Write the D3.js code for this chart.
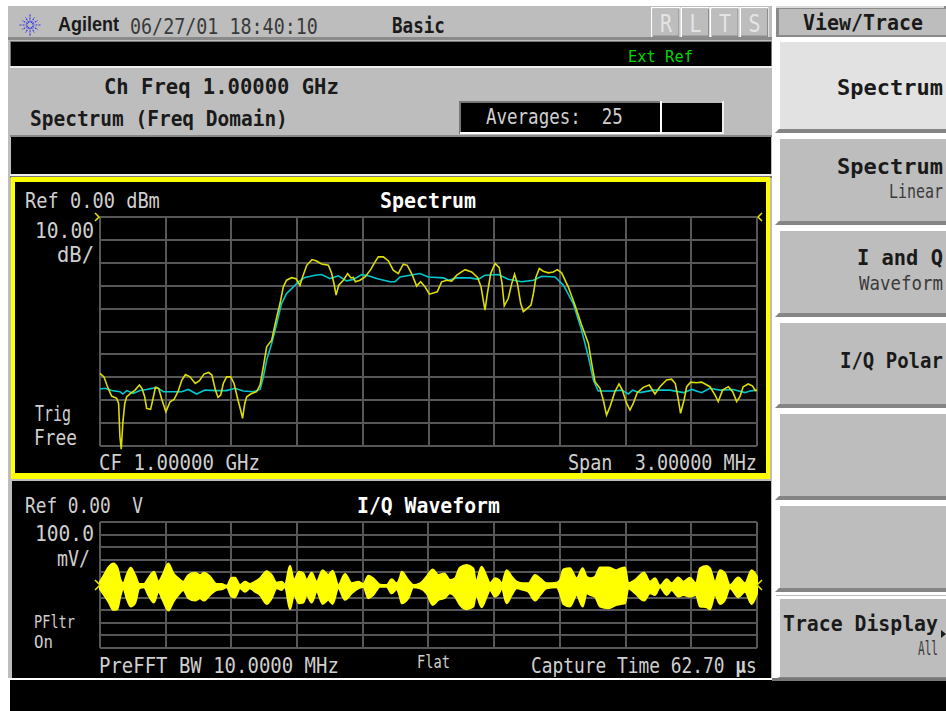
<!DOCTYPE html>
<html><head><meta charset="utf-8">
<script src="https://cdn.jsdelivr.net/npm/d3@7/dist/d3.min.js"></script>
<style>html,body{margin:0;padding:0;background:#fff;overflow:hidden}svg{display:block}</style>
</head><body><svg id="c" width="946" height="711"></svg>
<script>
// Spectrum: live trace (yellow) — frequency offset in kHz, power in dB
const liveFreq=[-1500,-1482,-1467,-1447,-1424,-1415,-1409,-1403,-1396,-1387,-1378,-1360,-1340,-1320,-1308,-1296,-1287,-1269,-1256,-1247,-1232,-1217,-1199,-1180,-1162,-1144,-1126,-1110,-1089,-1065,-1046,-1025,-1004,-989,-973,-961,-949,-937,-922,-903,-888,-870,-858,-849,-839,-830,-812,-785,-769,-754,-739,-716,-693,-678,-663,-648,-625,-605,-587,-575,-556,-532,-511,-488,-457,-442,-430,-422,-410,-389,-369,-354,-343,-334,-313,-290,-264,-244,-229,-206,-183,-161,-138,-130,-115,-97,-77,-54,-36,-16,4,40,60,83,106,129,167,197,224,240,250,258,269,284,304,323,336,346,364,380,393,406,421,433,456,468,479,491,506,524,547,570,588,608,638,669,699,730,745,760,783,798,813,829,851,870,885,905,920,935,953,981,1008,1034,1057,1087,1110,1127,1141,1151,1167,1179,1197,1224,1247,1285,1308,1323,1343,1369,1389,1407,1422,1437,1460,1480,1492,1500];
const livePower=[-68.3,-69.8,-73.8,-78.2,-79.2,-81.4,-95.9,-101.4,-90.1,-81.4,-78.5,-77,-75.6,-73.4,-74.9,-78.5,-83.6,-84,-78.5,-74.4,-74.9,-79.9,-85,-80.7,-79.7,-76.3,-71.2,-68.8,-69.8,-72.7,-71.5,-68.6,-67.9,-69,-75.6,-78.8,-77.8,-72.7,-69.8,-69.8,-72.7,-79.9,-84.3,-87.9,-81.4,-78.5,-77.3,-76.3,-73.4,-65.4,-56.7,-53.8,-43.6,-37.8,-30.5,-27.6,-26.5,-26.9,-29.8,-26.2,-21.1,-18.6,-19.2,-20.5,-21.1,-24.7,-29.8,-34.1,-29.8,-27.6,-24.7,-26.6,-26.4,-28.3,-27.6,-26.2,-23,-19.6,-17.4,-17.4,-19.2,-23.2,-24.7,-23.2,-20.6,-21.1,-24.7,-30.2,-28.3,-30.5,-33.7,-32.7,-28.3,-27.6,-28,-25.4,-23,-24,-26.4,-30.5,-36.3,-40.7,-33.4,-24.7,-20.3,-22.1,-29.1,-38.8,-35.6,-29.1,-25,-29.1,-37.8,-41.3,-39.5,-38.5,-33.4,-26.2,-22.5,-23.7,-24.4,-24,-23,-24.4,-30.5,-38.5,-47.2,-55.2,-63.9,-71.9,-74.8,-79.9,-86.5,-82.8,-76.3,-72.9,-75.6,-81.4,-84.3,-81.4,-76.7,-74.4,-73.4,-77.3,-74.1,-71.2,-70.8,-72.7,-79.9,-85.7,-79.9,-74.1,-72.1,-72.4,-72.1,-74.1,-77.7,-80.6,-75.6,-74.1,-76.3,-80.6,-78.5,-74.1,-72.9,-73.8,-75.8,-75.6];
// Spectrum: averaged trace (cyan)
const avgFreq=[-1500,-1477,-1447,-1409,-1396,-1378,-1348,-1317,-1287,-1241,-1211,-1165,-1127,-1097,-1059,-1021,-967,-922,-884,-846,-800,-769,-754,-739,-716,-693,-671,-648,-617,-594,-564,-518,-488,-450,-412,-374,-343,-305,-267,-237,-176,-153,-130,-85,-39,-1,68,91,129,190,228,258,319,364,425,479,517,578,616,661,699,730,753,775,844,882,912,932,965,1027,1103,1164,1202,1247,1285,1331,1392,1445,1468,1500];
const avgPower=[-75.1,-74.8,-75.8,-76.3,-77.3,-75.8,-77,-75.8,-75.3,-74.4,-76.3,-76.3,-76.3,-75.3,-77.3,-75.6,-75.8,-75.8,-74.8,-76,-76.3,-75.3,-69.8,-62.5,-55.2,-46.5,-37.8,-33.4,-30.5,-28.3,-26.4,-25.4,-25.1,-26.9,-25.7,-27.9,-27.3,-25.1,-25.9,-26.9,-28.3,-28.3,-26.2,-25.4,-24.7,-26.2,-26.6,-27.6,-26.6,-26.6,-27.2,-25.4,-25.1,-27.2,-28.3,-27.6,-25.9,-26.2,-29.8,-37.8,-49.4,-61,-71.2,-76,-76,-75.6,-77.3,-75.6,-76.7,-75.6,-75.6,-76.7,-75.3,-76.7,-74.8,-75.6,-75.3,-76.7,-76,-75.6];
// I/Q waveform envelope — time in µs, upper and lower limit in mV
const iqTime=[0,.38,.8,1.27,1.65,1.97,2.23,2.54,2.93,3.34,3.75,4.2,4.61,5.15,5.57,5.98,6.52,7,7.48,7.95,8.43,9.07,9.54,9.92,10.5,11.13,11.61,12.09,12.56,12.88,13.36,13.84,14.31,14.79,15.27,15.91,16.38,16.86,17.34,17.65,18.13,18.51,18.99,19.4,19.72,20.2,20.68,21.25,21.79,22.2,22.74,23.38,24.02,24.65,25.13,25.61,26.08,26.72,27.36,27.83,28.31,28.63,28.79,29.42,29.9,30.54,31.17,31.75,32.29,32.86,33.4,33.88,34.35,34.99,35.63,35.88,36.42,36.9,37.22,37.7,38.08,38.33,38.81,39.29,39.76,40.4,40.88,41.51,41.99,42.63,43.58,43.9,44.22,44.85,45.49,46.06,46.44,46.82,47.24,47.72,48.51,49.31,49.69,50.1,50.42,51.06,51.91,52.49,52.96,53.44,54.08,54.55,55.19,55.67,56.3,56.88,57.26,57.89,58.21,58.69,59.17,59.64,60.12,60.92,61.55,62.19,62.7];
const iqUpper=[26,79,139,171,139,39,13,79,137,79,8,8,53,105,26,79,171,92,53,26,79,97,79,97,66,8,8,-8,58,58,0,26,8,26,53,110,79,18,26,0,153,39,105,92,39,97,26,118,79,113,0,87,13,26,8,74,53,3,0,45,13,60,105,39,0,13,66,124,79,92,39,53,139,158,132,26,145,66,13,53,39,13,118,66,26,13,13,79,53,13,18,39,124,132,53,132,66,53,66,139,139,118,132,139,13,39,97,26,53,-8,45,13,60,26,58,13,132,150,132,26,118,92,0,60,13,118,66];
const iqLower=[-34,-79,-132,-197,-192,-79,-26,-105,-171,-145,-26,-18,-79,-139,-53,-118,-203,-132,-79,-39,-105,-124,-105,-124,-79,-39,-34,-18,-92,-97,-26,-53,-26,-53,-79,-150,-105,-26,-39,-13,-192,-79,-145,-139,-79,-139,-53,-150,-118,-150,-26,-118,-66,-26,-13,-105,-79,-13,-13,-66,-34,-97,-145,-105,-18,-26,-66,-158,-118,-105,-66,-92,-158,-192,-171,-79,-176,-92,-39,-92,-66,-26,-145,-79,-26,-39,-53,-124,-79,-26,-18,-66,-150,-171,-79,-171,-66,-79,-92,-171,-184,-158,-150,-145,-26,-66,-124,-66,-79,-18,-79,-39,-92,-79,-92,-79,-171,-176,-192,-79,-150,-118,-26,-97,-53,-150,-66];
const softKeys=[
 {y0:40,y1:130,light:true},{y0:137,y1:222},{y0:229,y1:314},{y0:321,y1:405},{y0:412,y1:497},{y0:504,y1:589},{y0:597,y1:678}];
const annunciators=["R","L","T","S"];

const svg=d3.select("#c");
const MONO="'DejaVu Sans Mono','Liberation Mono',monospace";
const GR="#bdbdbd",FG="#cfcfcf",INK="#1a1a1a";
const rect=(x,y,w,h,f)=>svg.append("rect").attr("x",x).attr("y",y).attr("width",w).attr("height",h).attr("fill",f);
// Text is stretched horizontally to the width it occupies in the reference, keeping its full height.
function txt(s,x0,x1,y,o={}){
  const t=svg.append("text").attr("x",0).attr("y",0).attr("font-family",o.family||MONO)
   .attr("font-size",o.size||22).attr("font-weight",o.bold?"bold":"normal").attr("fill",o.fill||FG)
   .attr("xml:space","preserve").style("white-space","pre");
  t.html(s);
  const w=t.node().getComputedTextLength();
  t.attr("transform",`translate(${x0},${y}) scale(${(x1-x0)/w},1)`);
  return t;
}
// chassis
rect(0,0,946,711,"#fff");
rect(8,6,938,672,GR);
rect(772,0,4,678,"#fff");
rect(8,37,764,3,"#8a8a8a");
rect(10,41,762,26,"#777");
rect(11,42,760,24,"#000");rect(10,66,762,2,"#eee");
rect(10,135,762,2,"#888");
rect(11,137,760,37,"#000");rect(10,174,762,2,"#eee");rect(10,176,762,2,"#777");
// header
const burst=svg.append("g").attr("transform","translate(30,25)").attr("stroke","#3a3ae0").attr("stroke-width",1.2);
d3.range(12).forEach(i=>{const a=i*Math.PI/6,r=i%3===0?11:9;burst.append("line").attr("x1",2.5*Math.cos(a)).attr("y1",2.5*Math.sin(a)).attr("x2",r*Math.cos(a)).attr("y2",r*Math.sin(a)).attr("stroke-dasharray","2 1");});
txt("Agilent",58,119,31,{family:"'Liberation Sans',sans-serif",size:20,bold:true,fill:INK});
txt("06/27/01 18:40:10",130,318,34,{fill:"#3a3a3a"});
txt("Basic",392,445,33,{bold:true,fill:INK});
annunciators.forEach((a,i)=>{const x=651+i*29.5;
  rect(x,7,29,30,"#fff");rect(x+1.5,8.5,27,28.5,"#8c8c8c");rect(x+1.5,8.5,26,27,GR);
  txt(a,x+9,x+21,32,{size:24,fill:"#e4e4e4"});});
txt("Ext Ref",628,693,62,{fill:"#00d400",size:16});
txt("Ch Freq 1.00000 GHz",104,339,94,{bold:true,fill:INK});
txt("Spectrum (Freq Domain)",30,288,126,{bold:true,fill:INK});
rect(459,101,202,33,"#777");rect(461,103,199,29,"#000");rect(460,132,201,2,"#fff");rect(660,101,2,33,"#fff");
rect(662,103,60,29,"#000");rect(662,132,62,2,"#eee");rect(722,101,2,33,"#eee");
txt("Averages:  25",486,623,124);
// soft keys
softKeys.forEach(k=>{
  rect(776,k.y0-1,170,k.y1-k.y0+7,"#fff");
  rect(780,k.y0+2,166,k.y1-k.y0,k.light?"#e2e2e2":GR);
  svg.append("polygon").attr("fill","#858585").attr("points",[[775,k.y1+3],[779,k.y1-1],[946,k.y1-1],[946,k.y1+3]].join(" "));
});
rect(776,6,170,31,"#8a8a8a");rect(776,6,168,2,"#ddd");rect(779,9,167,26,GR);rect(776,37,170,3,"#fff");
txt("View/Trace",803,923,30,{bold:true,fill:INK});
[["Spectrum",837,943,95],["Spectrum",837,943,174],["I and Q",857,943,265],["I/Q Polar",840,943,368],["Trace Display",783,938,631]]
  .forEach(k=>txt(k[0],k[1],k[2],k[3],{bold:true,fill:INK}));
[["Linear",889,943,198],["Waveform",859,943,290],["All",918,938,655]].forEach(k=>txt(k[0],k[1],k[2],k[3],{fill:"#3a3a3a",size:19}));
svg.append("polygon").attr("points","941,630 946,634 941,638").attr("fill",INK);
// bottom bar
rect(10,680,936,31,"#000");rect(8,678,764,2,"#fff");rect(772,678,174,3,"#777");

// spectrum panel
rect(11,177,759,302,"#ffff00");rect(15,182,751,291,"#000");
const x=d3.scaleLinear().domain([-1500,1500]).range([100,757]);
const yS=d3.scaleLinear().domain([0,-100]).range([217,446]);
const tG=d3.scaleLinear().domain([0,62.7]).range([100,757]);
const yW=d3.scaleLinear().domain([500,-500]).range([522,648]);
function grid(xs,xv,ys,yv){
  const g=svg.append("g").attr("stroke","#565656").attr("stroke-width",1.2).attr("shape-rendering","crispEdges");
  yv.forEach(v=>g.append("line").attr("x1",xs.range()[0]).attr("x2",xs.range()[1]).attr("y1",Math.round(ys(v))).attr("y2",Math.round(ys(v))));
  xv.forEach(v=>g.append("line").attr("y1",ys.range()[0]).attr("y2",ys.range()[1]).attr("x1",Math.round(xs(v))).attr("x2",Math.round(xs(v))));
}
grid(x,d3.range(-1500,1501,300),yS,d3.range(0,-101,-10));
const lineG=(f,p)=>d3.line().x((d,i)=>x(f[i])).y((d,i)=>yS(p[i]))(f);
svg.append("path").attr("d",lineG(avgFreq,avgPower)).attr("fill","none").attr("stroke","#00c8d0").attr("stroke-width",1.6);
svg.append("path").attr("d",lineG(liveFreq,livePower)).attr("fill","none").attr("stroke","#dcdc00").attr("stroke-width",1.6);
const mk=(pts)=>svg.append("polyline").attr("points",pts).attr("fill","none").attr("stroke","#e8e800").attr("stroke-width",1.5);
mk("95,213 99,217 95,221");mk("762,213 758,217 762,221");
txt("Ref 0.00 dBm",25,160,208);
txt("Spectrum",380,476,208,{bold:true,fill:"#fff"});
txt("10.00",35,94,238);txt("dB/",57,94,262);
txt("Trig",35,71,421);txt("Free",34,77,445);
txt("CF 1.00000 GHz",99,260,470);
txt("Span  3.00000 MHz",568,757,470);

// waveform panel
rect(12,481,759,197,"#000");
grid(tG,d3.range(0,11).map(i=>i*6.27),yW,d3.range(500,-501,-100));
const area=d3.area().curve(d3.curveMonotoneX).x((d,i)=>tG(iqTime[i])).y0((d,i)=>yW(iqUpper[i])).y1((d,i)=>yW(iqLower[i]));
svg.append("path").attr("d",area(iqTime)).attr("fill","#ffff00").attr("stroke","#ffff00").attr("stroke-width",2);
mk("95,580 100,585 95,590");mk("762,580 757,585 762,590");
txt("Ref 0.00  V",25,143,513);
txt("I/Q Waveform",357,500,513,{bold:true,fill:"#fff"});
txt("100.0",35,94,541,{size:21});txt("mV/",57,90,566,{size:21});
txt("PFltr",34,75,628,{size:17});txt("On",34,53,648,{size:17});
txt("PreFFT BW 10.0000 MHz",99,339,673);
txt("Flat",417,450,668,{size:17});
txt('Capture Time 62.70 <tspan font-weight="bold">µ</tspan>s',531,757,673);
</script></body></html>
